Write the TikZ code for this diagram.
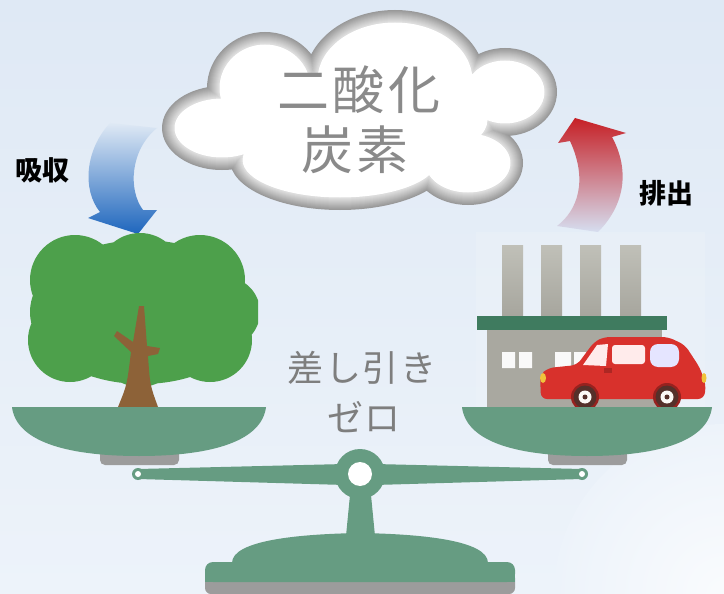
\documentclass[tikz,border=0pt]{standalone}
\usepackage{fontspec}
\newfontfamily\jp{Noto Sans CJK JP}
\usetikzlibrary{calc}

\definecolor{bgtop}{HTML}{DFE9F5}
\definecolor{bgbot}{HTML}{EDF3FA}
\definecolor{cloudtext}{HTML}{8A8A8A}
\definecolor{scaletext}{HTML}{7E7E7E}
\definecolor{scalegreen}{HTML}{669C82}
\definecolor{footgray}{HTML}{9C9C9C}
\definecolor{leafgreen}{HTML}{4DA04B}
\definecolor{bark}{HTML}{8D6238}
\definecolor{stackgray}{HTML}{A6A59D}
\definecolor{stacktop}{HTML}{C0C0B8}
\definecolor{roofgreen}{HTML}{3F7B5F}
\definecolor{wallgray}{HTML}{A9A8A0}
\definecolor{carred}{HTML}{D8312C}
\definecolor{tyre}{HTML}{55302A}
\definecolor{lamp}{HTML}{F0C33C}
\definecolor{blueend}{HTML}{1E66BD}
\definecolor{bluemid}{HTML}{8CAADE}
\definecolor{redend}{HTML}{C62026}
\definecolor{redmid}{HTML}{D496A2}
\definecolor{redtail}{HTML}{D6DEF0}

% union of ellipses forming the cloud, shrunk inward by #1
\newcommand\cloudblobs[1]{%
  (265,88) ellipse [x radius={58-#1}, y radius={56-#1}]
  (395,80) ellipse [x radius={90-#1}, y radius={70-#1}]
  (505,92) ellipse [x radius={52-#1}, y radius={44-#1}]
  (468,163) ellipse [x radius={55-#1}, y radius={42-#1}]
  (340,160) ellipse [x radius={110-#1}, y radius={50-#1}]
  (222,128) ellipse [x radius={60-#1}, y radius={42-#1}]
  (360,120) ellipse [x radius={140-#1}, y radius={60-#1}]}

\begin{document}
\begin{tikzpicture}[x=1pt,y=-1pt,
  cloudtxt/.style={text=cloudtext, inner sep=0pt,
    font=\jp\fontsize{52}{60}\selectfont\addfontfeature{LetterSpace=6}},
  scaletxt/.style={text=scaletext, inner sep=0pt,
    font=\jp\fontsize{36}{40}\selectfont\addfontfeature{LetterSpace=5}},
  flowlabel/.style={text=black, inner sep=0pt,
    font=\jp\bfseries\fontsize{27}{30}\selectfont},
  scalepart/.style={fill=scalegreen},
  footpart/.style={fill=footgray}]

\useasboundingbox (0,0) rectangle (724,594);

% background
\shade[top color=bgtop, bottom color=bgbot] (0,0) rectangle (724,594);
\begin{scope}
  \clip (0,0) rectangle (724,594);
  \shade[inner color=white!70!bgbot, outer color=bgbot] (724,594) circle [radius=170];
\end{scope}

% cloud: rim shaded from grey at the edge to white inside
\foreach \d in {0,1,...,11} {
  \pgfmathsetmacro\shadeval{40-2.4*\d}
  \fill[black!\shadeval] \cloudblobs{\d};
}
\fill[white] \cloudblobs{12.5};

\node[cloudtxt] (co2top) at (359,90) {二酸化};
\node[cloudtxt] (co2bot) at (355,150) {炭素};

% absorption arrow (blue)
\shade[top color=bgtop, middle color=bluemid, bottom color=blueend]
  (110,123) .. controls (85,150) and (82,190) .. (100,212)
  -- (88,218) -- (138,234) -- (157,210) -- (143,210)
  .. controls (128,190) and (130,150) .. (157,128) -- cycle;
\node[flowlabel] (absorb) at (43,170) {吸収};

% emission arrow (red)
\shade[top color=redend, middle color=redmid, bottom color=redtail]
  (557,226) .. controls (578,210) and (588,180) .. (570,141)
  -- (558,143) -- (575,118) -- (626,133) -- (612,137)
  .. controls (630,170) and (625,205) .. (598,232) -- cycle;
\node[flowlabel] (emit) at (666,193) {排出};

% tree
\begin{scope}
  \clip (25,225) rectangle (258,410);
  \fill[leafgreen]
    (142,312) ellipse [x radius=112, y radius=72]
    (75,280) circle [radius=45]
    (140,275) circle [radius=42]
    (200,280) circle [radius=45]
    (225,312) circle [radius=35]
    (70,340) circle [radius=42]
    (140,345) circle [radius=42]
    (210,340) circle [radius=42];
\end{scope}
\fill[bark] (118,407) .. controls (127,385) .. (131,352) -- (114,336)
  -- (117,331) -- (133,342) -- (139,306) -- (144,306) -- (147,346)
  -- (160,348) -- (158,354) -- (148,356) .. controls (150,385) .. (158,407) -- cycle;

% factory
\fill[white, opacity=0.12] (476,232) rectangle (705,410);
\foreach \sx in {502,541,580,620}
  \shade[top color=stacktop, bottom color=stackgray]
    (\sx,245) rectangle ++(21,73);
\fill[roofgreen] (477,316) rectangle (667,330);
\fill[wallgray] (487,330) rectangle (662,407);
\fill[white!95!gray] (502,352) rectangle (515,368) (519,352) rectangle (532,368)
  (555,352) rectangle (571,368) (574,352) rectangle (590,368);

% car
\fill[carred, rounded corners=6pt] (541,399) -- (540,375) -- (548,368) -- (577,365)
  -- (594,342) -- (604,337) -- (668,337) -- (685,345) -- (700,368) -- (706,385)
  -- (704,399) -- cycle;
\fill[white!92!red] (583,365) -- (597,345) -- (608,344) -- (606,366) -- cycle;
\fill[white!92!red, rounded corners=3pt] (612,345) rectangle (645,364);
\fill[white!90!blue, rounded corners=8pt] (650,344) rectangle (679,367);
\fill[carred!80!black] (604,368) rectangle (612,373);
\fill[lamp] (543,378) ellipse [x radius=3, y radius=5];
\fill[lamp] (704,378) ellipse [x radius=2.5, y radius=5];
\foreach \wx in {585,667} {
  \fill[carred!70!black] (\wx,397) circle [radius=14];
  \fill[tyre] (\wx,397) circle [radius=11.5];
  \fill[white!95!brown] (\wx,397) circle [radius=6.5];
  \fill[tyre] (\wx,397) circle [radius=2.5];
}

% scale pans with feet
\fill[footpart, rounded corners=5pt] (100,446) rectangle (179,465);
\fill[footpart, rounded corners=5pt] (548,446) rectangle (627,465);
\fill[scalepart] (12,407) -- (266,407) .. controls (262,440) and (215,456) .. (139,456)
  .. controls (63,456) and (16,440) .. (12,407) -- cycle;
\fill[scalepart] (462,407) -- (712,407) .. controls (708,440) and (662,456) .. (587,456)
  .. controls (512,456) and (466,440) .. (462,407) -- cycle;

% beam
\fill[scalepart] (138,469) -- (345,464) -- (375,464) -- (582,469)
  -- (582,479) -- (375,485) -- (345,485) -- (138,479) -- cycle;
\fill[scalepart] (138,474) circle [radius=6] (582,474) circle [radius=6];
\fill[white] (138,474) circle [radius=3] (582,474) circle [radius=3];
\fill[scalepart] (360,474) circle [radius=25];
\fill[white] (360,474) circle [radius=12];

% post and base
\fill[scalepart] (350,495) -- (371,495) -- (375,536) -- (346,536) -- cycle;
\fill[footpart, rounded corners=6pt] (205,572) rectangle (515,594);
\fill[scalepart, rounded corners=8pt] (205,562) rectangle (515,582);
\fill[scalepart] (205,574) rectangle (515,582);
\fill[scalepart] (232,563) .. controls (232,540) and (300,534) .. (360,533)
  .. controls (420,534) and (488,540) .. (488,563) -- cycle;

% balance caption
\node[scaletxt] (nettop) at (362,368) {差し引き};
\node[scaletxt] (netbot) at (364,417) {ゼロ};

\end{tikzpicture}
\end{document}
